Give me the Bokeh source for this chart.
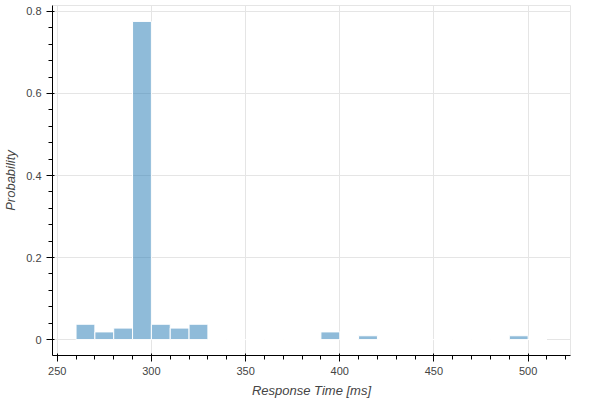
from bokeh.plotting import figure
from bokeh.embed import file_html
from bokeh.resources import INLINE

bin_left = [260, 270, 280, 290, 300, 310, 320, 330, 340, 350, 360, 370, 380,
            390, 400, 410, 420, 430, 440, 450, 460, 470, 480, 490, 500]
bin_right = [260 + 10 * (i + 1) for i in range(len(bin_left))]
probability = [0.0374, 0.0187, 0.0280, 0.7757, 0.0374, 0.0280, 0.0374, 0, 0, 0, 0, 0, 0,
               0.0187, 0, 0.0093, 0, 0, 0, 0, 0, 0, 0, 0.0093, 0]

p = figure(width=575, height=400, output_backend="svg", toolbar_location=None,
           x_axis_label="Response Time [ms]", y_axis_label="Probability")
p.quad(left=bin_left, right=bin_right, top=probability, bottom=0,
       fill_color="#1f77b4", fill_alpha=0.5, line_color="white")

open("out.html", "w").write(file_html(p, INLINE))
